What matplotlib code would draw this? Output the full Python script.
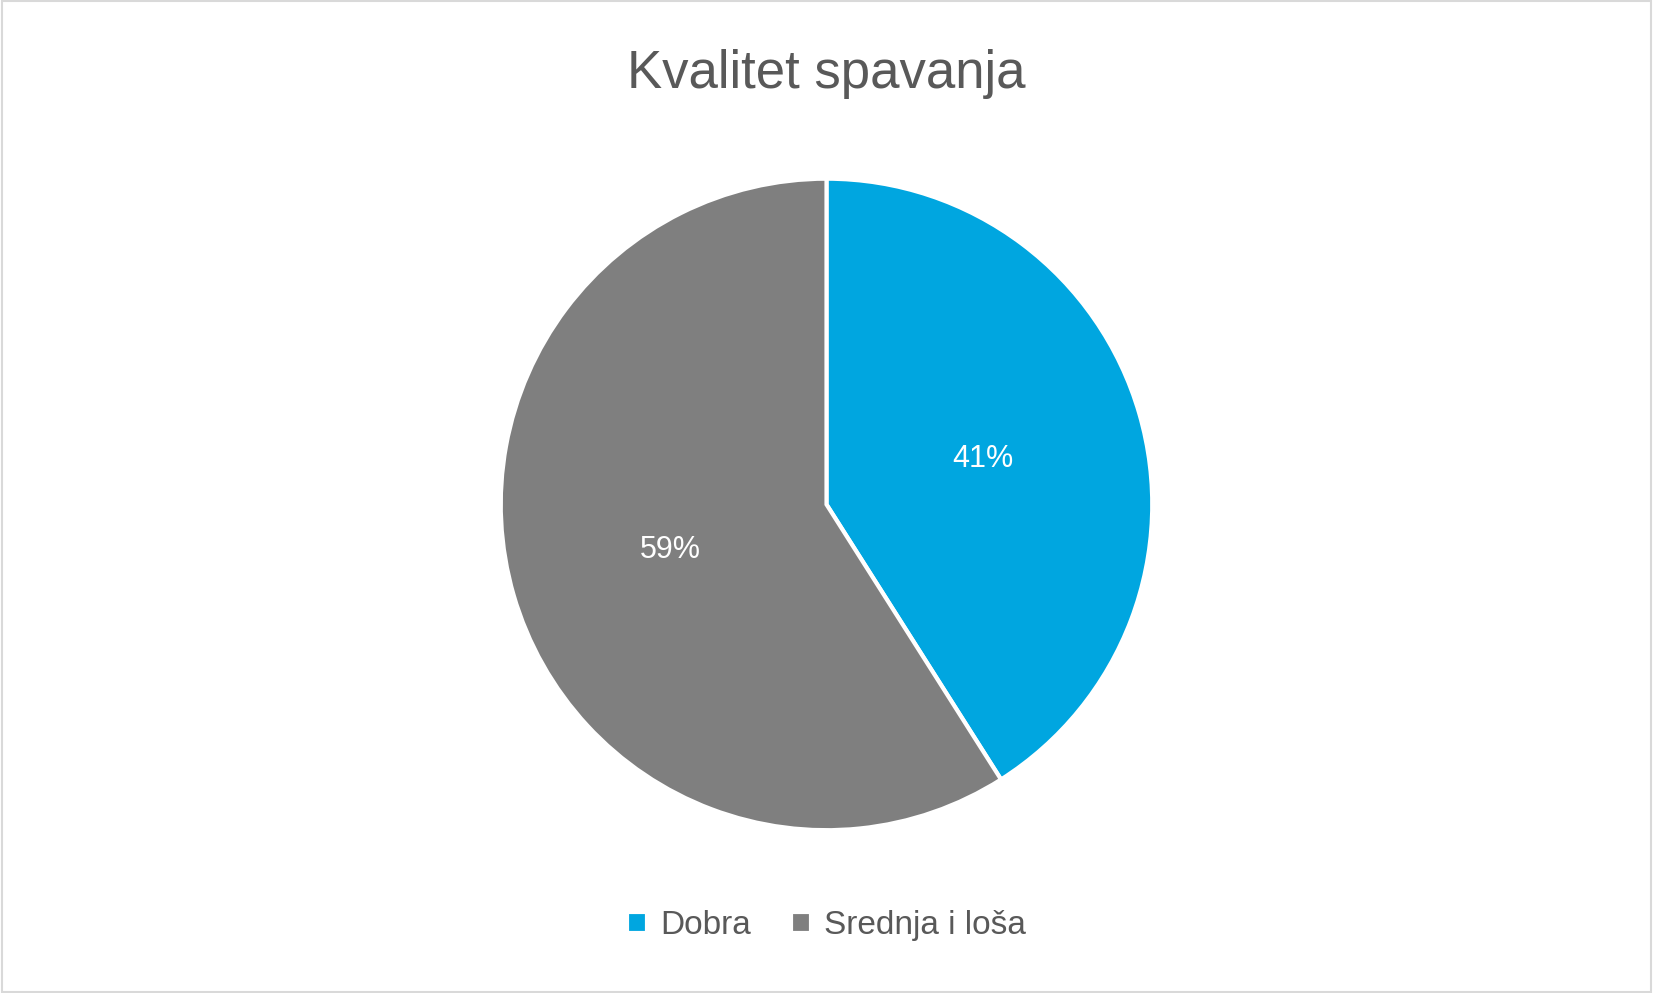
import matplotlib
matplotlib.use("Agg")
import matplotlib.pyplot as plt
from matplotlib.patches import Rectangle
import numpy as np

categories = ["Dobra", "Srednja i loša"]
values = [41, 59]
colors = ["#00A6E0", "#7F7F7F"]

plt.rcParams['font.family'] = ['Liberation Sans', 'DejaVu Sans']
fig = plt.figure(figsize=(16.53, 9.93), dpi=100)
fig.patches.append(Rectangle((0.001, 0.001), 0.998, 0.998, transform=fig.transFigure,
                             fill=False, edgecolor="#D9D9D9", linewidth=1.5))
ax = fig.add_axes([0.5 - 329/1653, 0.492 - 0.3315, 658/1653, 0.663])
wedges, texts = ax.pie(values, colors=colors, startangle=90, counterclock=False,
                       wedgeprops=dict(edgecolor="white", linewidth=3), radius=1)
ang = 90
for v, w in zip(values, wedges):
    mid = np.deg2rad(ang - v * 3.6 / 2)
    ang -= v * 3.6
    ax.text(0.5 * np.cos(mid), 0.5 * np.sin(mid), f"{v}%", color="white",
            fontsize=22, ha="center", va="center")
ax.set_xlim(-1.01, 1.01)
ax.set_ylim(-1.01, 1.01)
ax.set_aspect("equal")
fig.text(0.5, 0.925, "Kvalitet spavanja", ha="center", va="center", fontsize=38, color="#595959")
fig.legend(wedges, categories, loc="center", bbox_to_anchor=(0.5, 0.068), ncol=2,
           frameon=False, fontsize=24, labelcolor="#595959", handlelength=0.6,
           handleheight=0.6, columnspacing=1.2, handletextpad=0.4)
fig.savefig("out.png", dpi=100)
